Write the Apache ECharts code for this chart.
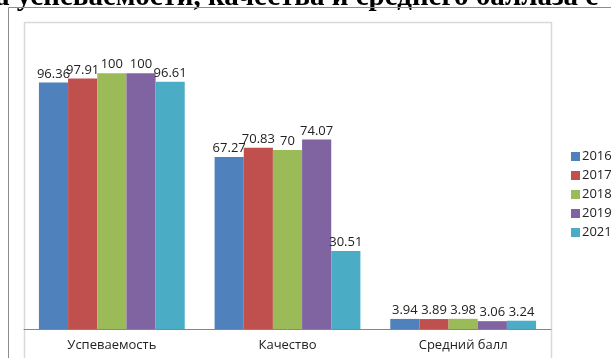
<!DOCTYPE html>
<html>
<head>
<meta charset="utf-8">
<script src="https://cdn.jsdelivr.net/npm/echarts@6/dist/echarts.min.js"></script>
<style>
  html, body { margin: 0; padding: 0; background: #fff; }
  #chart { width: 611px; height: 358px; }
</style>
</head>
<body>
<div id="chart"></div>
<script>
const categories = ['Успеваемость', 'Качество', 'Средний балл'];
const years = ['2016', '2017', '2018', '2019', '2021'];
const v2016 = [96.36, 67.27, 3.94];
const v2017 = [97.91, 70.83, 3.89];
const v2018 = [100, 70, 3.98];
const v2019 = [100, 74.07, 3.06];
const v2021 = [96.61, 30.51, 3.24];
const values = [v2016, v2017, v2018, v2019, v2021];
const colors = ['#4F81BD', '#C0504D', '#9BBB59', '#8064A2', '#4BACC6'];

const font = 'Open Sans';

let myChart = echarts.init(document.getElementById('chart'));
myChart.setOption({
  animation: false,
  color: colors,
  graphic: [
    // заголовок, обрезанный сверху
    {
      type: 'text', left: -5, top: -17, silent: true,
      style: {
        text: 'а успеваемости, качества и среднего баллаза с',
        font: 'bold 29px "Liberation Serif"',
        fill: '#000'
      }
    },
    // внешняя рамка
    {
      type: 'polyline', silent: true,
      shape: { points: [[8.5, 400], [8.5, 7.5], [640, 7.5]] },
      style: { stroke: '#8c8c8c', lineWidth: 1, fill: null }
    },
    // рамка области диаграммы
    {
      type: 'rect', silent: true, z: -1,
      shape: { x: 24.5, y: 22.5, width: 527, height: 400 },
      style: { stroke: '#d9d9d9', lineWidth: 1.5, fill: null }
    }
  ],
  legend: {
    orient: 'vertical',
    left: 566,
    top: 145,
    itemWidth: 9,
    itemHeight: 9,
    itemGap: 6,
    icon: 'rect',
    textStyle: { fontFamily: font, fontSize: 13, color: '#222', padding: [0, 0, 0, -3] },
    data: years
  },
  grid: { left: 24, right: 60, top: 22, bottom: 29 },
  xAxis: {
    type: 'category',
    data: categories,
    axisLine: { lineStyle: { color: '#868686', width: 1 } },
    axisTick: { length: 5, lineStyle: { color: '#868686' } },
    axisLabel: { fontFamily: font, fontSize: 13, color: '#222', margin: 10 }
  },
  yAxis: {
    type: 'value',
    min: 0,
    max: 120,
    show: false,
    splitLine: { show: false }
  },
  series: years.map((y, i) => ({
    name: y,
    type: 'bar',
    data: values[i],
    barGap: '0%',
    barCategoryGap: '17%',
    label: {
      show: true,
      position: 'top',
      distance: 2,
      fontFamily: font,
      fontSize: 13,
      color: '#222'
    }
  }))
});
</script>
</body>
</html>
